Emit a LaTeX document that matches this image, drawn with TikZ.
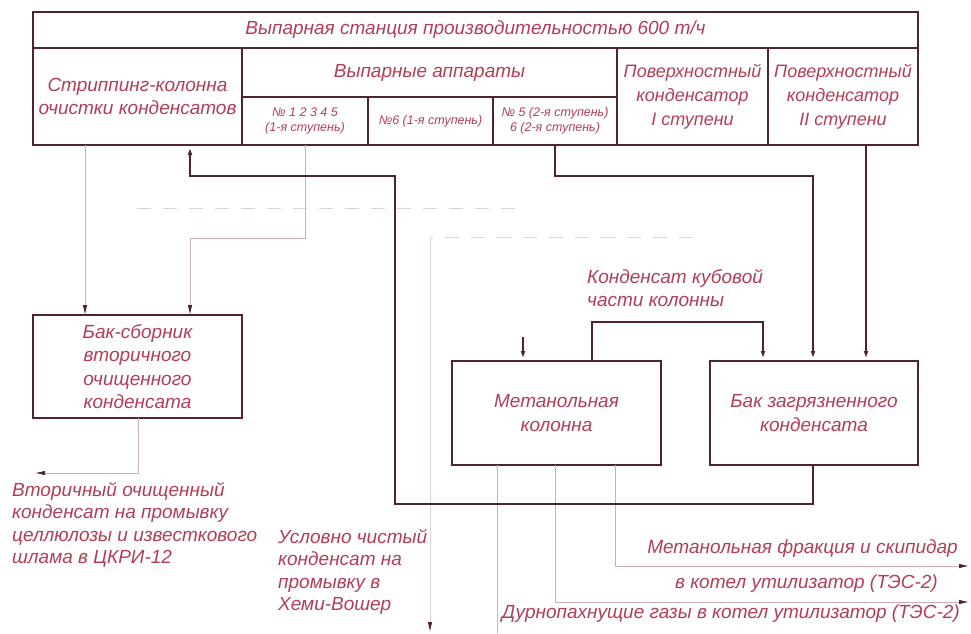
\documentclass[tikz,border=0pt]{standalone}
\usepackage{fontspec}
\setmainfont{Liberation Sans}
\usetikzlibrary{arrows.meta}
\definecolor{ln}{RGB}{78,36,46}
\definecolor{tx}{RGB}{178,62,86}
\definecolor{thn}{RGB}{214,172,182}
\definecolor{fnt}{RGB}{222,212,215}
\newcommand{\bigtxt}{\fontsize{19}{23.5}\selectfont\itshape}
\newcommand{\midtxt}{\fontsize{18}{24}\selectfont\itshape}
\newcommand{\lbltxt}{\fontsize{19}{22.5}\selectfont\itshape}
\newcommand{\smalltxt}{\fontsize{12.5}{15.5}\selectfont\itshape}
\begin{document}
\begin{tikzpicture}[x=1pt,y=-1pt,
  cell/.style={draw=ln,line width=2.2pt,inner sep=0pt,outer sep=0pt,text=tx,font=\bigtxt,align=center},
  lbl/.style={inner sep=0pt,text=tx,font=\lbltxt,align=left},
  tip/.style={-{Latex[length=10pt,width=4.5pt,color=ln]}},
  thickline/.style={draw=ln,line width=2.2pt},
  thinline/.style={draw=thn,line width=0.8pt},
  faintline/.style={draw=fnt,line width=0.8pt},
  faintdash/.style={draw=fnt,line width=0.9pt,dash pattern=on 14pt off 12pt}]
\useasboundingbox (0,0) rectangle (971,633);
% table
\node[cell,minimum width=885,minimum height=36] (title) at (475.5,30) {Выпарная станция производительностью 600 т/ч};
\node[cell,minimum width=209,minimum height=97] (strip) at (137.5,96.5) {Стриппинг-колонна\\очистки конденсатов};
\node[cell,minimum width=375,minimum height=49] (vyp) at (429.5,72.5) {Выпарные аппараты};
\node[cell,font=\smalltxt,minimum width=126,minimum height=48] (a1) at (305,121) {№ 1 2 3 4 5\\(1-я ступень)};
\node[cell,font=\smalltxt,minimum width=125,minimum height=48] (a6) at (430.5,121) {№6 (1-я ступень)};
\node[cell,font=\smalltxt,minimum width=124,minimum height=48] (a5) at (555,121) {№ 5 (2-я ступень)\\6 (2-я ступень)};
\node[cell,font=\midtxt,minimum width=151,minimum height=97] (pk1) at (692.5,96.5) {Поверхностный\\конденсатор\\I ступени};
\node[cell,font=\midtxt,minimum width=150,minimum height=97] (pk2) at (843,96.5) {Поверхностный\\конденсатор\\II ступени};
% boxes
\node[cell,minimum width=209,minimum height=103] (bs) at (137.5,366.5) {Бак-сборник\\вторичного\\очищенного\\конденсата};
\node[cell,minimum width=209,minimum height=104] (mk) at (556.5,413) {Метанольная\\колонна};
\node[cell,minimum width=208,minimum height=104] (bz) at (814,413) {Бак загрязненного\\конденсата};
% faint remnants
\coordinate (d1) at (137,208);
\coordinate (d2) at (522,208);
\coordinate (f1) at (693,237);
\coordinate (f2) at (430,237);
\coordinate (out5) at (430,632);
\draw[faintdash] (d1) -- (d2);
\draw[faintdash] (f1) -- (f2);
\draw[faintline,tip] (f2) -- (out5);
% thin connectors
\draw[thinline,tip] ([xshift=52]strip.south west) -- ([xshift=52]bs.north west);
\draw[thinline,tip] (a1.south) -- ++(0,93) -| ([xshift=157]bs.north west);
\coordinate (out4) at (35,473);
\draw[thinline,tip] ([xshift=105]bs.south west) |- (out4);
\coordinate (out1) at (969,566);
\coordinate (out2) at (969,602);
\coordinate (out3) at (497,633);
\draw[thinline,tip] ([xshift=163]mk.south west) |- (out1);
\draw[thinline,tip] ([xshift=103]mk.south west) |- (out2);
\draw[thinline] ([xshift=45]mk.south west) -- (out3);
% thick connectors
\draw[thickline,tip] ([xshift=103]bz.south west) -- ++(0,39) -- ++(-418,0) -- ++(0,-328) -| ([xshift=157]strip.south west);
\draw[thickline,tip] (a5.south) -- ++(0,31) -| ([xshift=103]bz.north west);
\draw[thickline,tip] ([xshift=23]pk2.south) -- ([xshift=156]bz.north west);
\draw[thickline,tip] ([xshift=140]mk.north west) -- ++(0,-39) -| ([xshift=53]bz.north west);
\coordinate (stub) at (523,337);
\draw[thickline,tip] (stub) -- (stub |- mk.north);
% labels
\node[lbl,anchor=west] (lk) at (587,288) {Конденсат кубовой\\части колонны};
\node[lbl,anchor=west] (lv) at (12,525) {Вторичный очищенный\\конденсат на промывку\\целлюлозы и известкового\\шлама в ЦКРИ-12};
\node[lbl,anchor=west] (lu) at (278,572) {Условно чистый\\конденсат на\\промывку в\\Хеми-Вошер};
\node[lbl,anchor=east] (lm1) at (958,549) {Метанольная фракция и скипидар};
\node[lbl,anchor=east] (lm2) at (938,584) {в котел утилизатор (ТЭС-2)};
\node[lbl,anchor=east] (ld) at (960,614) {Дурнопахнущие газы в котел утилизатор (ТЭС-2)};
\end{tikzpicture}
\end{document}
